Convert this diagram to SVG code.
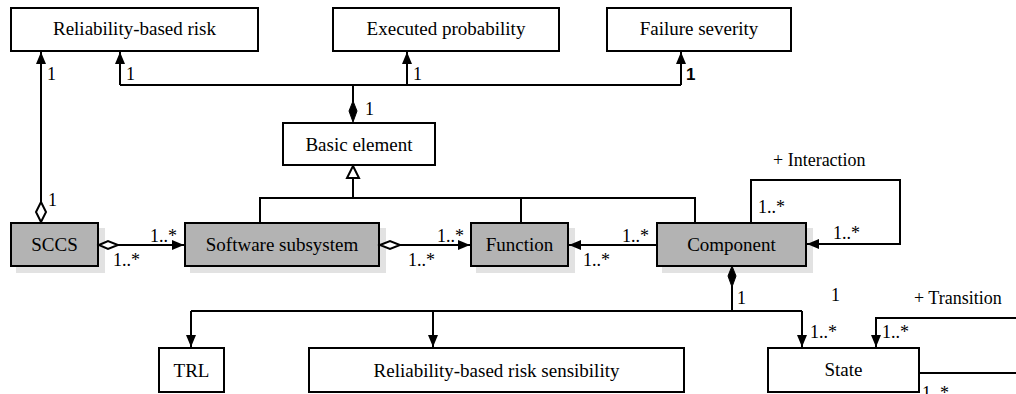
<svg xmlns="http://www.w3.org/2000/svg" width="1016" height="394" viewBox="0 0 1016 394" font-family="Liberation Serif, Times New Roman, serif">
<style>
.box{fill:#fff;stroke:#000;stroke-width:2}
.g{fill:#b3b3b3;stroke:#000;stroke-width:2}
.sh{fill:#e2e2e2}
.t{font-family:'Liberation Serif','Times New Roman',serif;font-size:19px;fill:#000;text-anchor:middle}
.l{font-family:'Liberation Serif','Times New Roman',serif;font-size:18px;fill:#000}
.c{fill:none;stroke:#000;stroke-width:2}
</style>
<defs>
<marker id="ar" viewBox="0 0 12 10" refX="12" refY="5" markerWidth="12" markerHeight="10" markerUnits="userSpaceOnUse" orient="auto">
<path d="M0,0 L12,5 L0,10 Z" fill="#000"/>
</marker>
</defs>
<rect width="1016" height="394" fill="#fff"/>
<g id="n-rbr"><rect class="box" x="11" y="8" width="247" height="43"/><text class="t" x="134.5" y="35">Reliability-based risk</text></g>
<g id="n-ep"><rect class="box" x="333" y="8" width="226" height="43"/><text class="t" x="446" y="35">Executed probability</text></g>
<g id="n-fs"><rect class="box" x="607" y="8" width="184" height="43"/><text class="t" x="699" y="35">Failure severity</text></g>
<g id="n-be"><rect class="box" x="283" y="123" width="152" height="42"/><text class="t" x="359" y="151">Basic element</text></g>
<g id="n-sccs"><rect class="sh" x="16" y="228" width="89" height="45"/><rect class="g" x="11" y="223" width="87" height="43"/><text class="t" x="54.5" y="251">SCCS</text></g>
<g id="n-ss"><rect class="sh" x="190" y="228" width="196" height="45"/><rect class="g" x="185" y="223" width="194" height="43"/><text class="t" x="282" y="251">Software subsystem</text></g>
<g id="n-fn"><rect class="sh" x="476" y="228" width="99" height="45"/><rect class="g" x="471" y="223" width="97" height="43"/><text class="t" x="519.5" y="251">Function</text></g>
<g id="n-cp"><rect class="sh" x="662" y="228" width="151" height="45"/><rect class="g" x="657" y="223" width="149" height="43"/><text class="t" x="731.5" y="251">Component</text></g>
<g id="n-trl"><rect class="box" x="159" y="348" width="65" height="44"/><text class="t" x="191.5" y="377">TRL</text></g>
<g id="n-rbrs"><rect class="box" x="309" y="348" width="375" height="44"/><text class="t" x="496.5" y="377">Reliability-based risk sensibility</text></g>
<g id="n-st"><rect class="box" x="768" y="348" width="151" height="44"/><text class="t" x="843.5" y="376">State</text></g>
<g id="connectors">
<path class="c" d="M120,85 H681"/>
<path class="c" d="M120,85 V52" marker-end="url(#ar)"/>
<path class="c" d="M407,85 V52" marker-end="url(#ar)"/>
<path class="c" d="M681,85 V52" marker-end="url(#ar)"/>
<path class="c" d="M353,85 V102"/>
<path d="M353,101 L357,111 L353,122 L349,111 Z" fill="#000" stroke="#000" stroke-width="1"/>
<path class="c" d="M41,202 V52" marker-end="url(#ar)"/>
<path d="M41,202 L46,212 L41,222 L36,212 Z" fill="#fff" stroke="#000" stroke-width="2"/>
<path class="c" d="M353,178 V198"/>
<path d="M353,166 L359,178 L347,178 Z" fill="#fff" stroke="#000" stroke-width="2"/>
<path class="c" d="M260,223 V198 H695 V223"/>
<path class="c" d="M521,198 V223"/>
<path class="c" d="M118,245 H184" marker-end="url(#ar)"/>
<path d="M99,245 L108,241 L118,245 L108,249 Z" fill="#fff" stroke="#000" stroke-width="2"/>
<path class="c" d="M400,245 H470" marker-end="url(#ar)"/>
<path d="M380,245 L390,241 L400,245 L390,249 Z" fill="#fff" stroke="#000" stroke-width="2"/>
<path class="c" d="M657,245 H569" marker-end="url(#ar)"/>
<path class="c" d="M751,223 V180 H900 V244 H807" marker-end="url(#ar)"/>
<path d="M732,266 L736,276 L732,287 L728,276 Z" fill="#000" stroke="#000" stroke-width="1"/>
<path class="c" d="M732,286 V311"/>
<path class="c" d="M191,311 H802"/>
<path class="c" d="M191,311 V347" marker-end="url(#ar)"/>
<path class="c" d="M433,311 V347" marker-end="url(#ar)"/>
<path class="c" d="M802,311 V347" marker-end="url(#ar)"/>
<path class="c" d="M1016,318 H876 V347" marker-end="url(#ar)"/>
<path class="c" d="M919,373 H1016"/>
</g>
<g id="labels">
<text class="l" x="47" y="80">1</text>
<text class="l" x="126" y="80">1</text>
<text class="l" x="413" y="80">1</text>
<text x="686" y="80" font-family="Liberation Sans, Arial, sans-serif" font-size="17" font-weight="bold">1</text>
<text class="l" x="365" y="115">1</text>
<text class="l" x="48" y="206">1</text>
<text class="l" x="150" y="242">1..*</text>
<text class="l" x="113" y="266">1..*</text>
<text class="l" x="437" y="242">1..*</text>
<text class="l" x="408" y="266">1..*</text>
<text class="l" x="622" y="242">1..*</text>
<text class="l" x="583" y="266">1..*</text>
<text class="l" x="773" y="166">+ Interaction</text>
<text class="l" x="758" y="213">1..*</text>
<text class="l" x="833" y="239">1..*</text>
<text class="l" x="737" y="304">1</text>
<text class="l" x="831" y="301">1</text>
<text class="l" x="914" y="304">+ Transition</text>
<text class="l" x="810" y="338">1..*</text>
<text class="l" x="882" y="338">1..*</text>
<text class="l" x="922" y="399">1..*</text>
</g>
</svg>
